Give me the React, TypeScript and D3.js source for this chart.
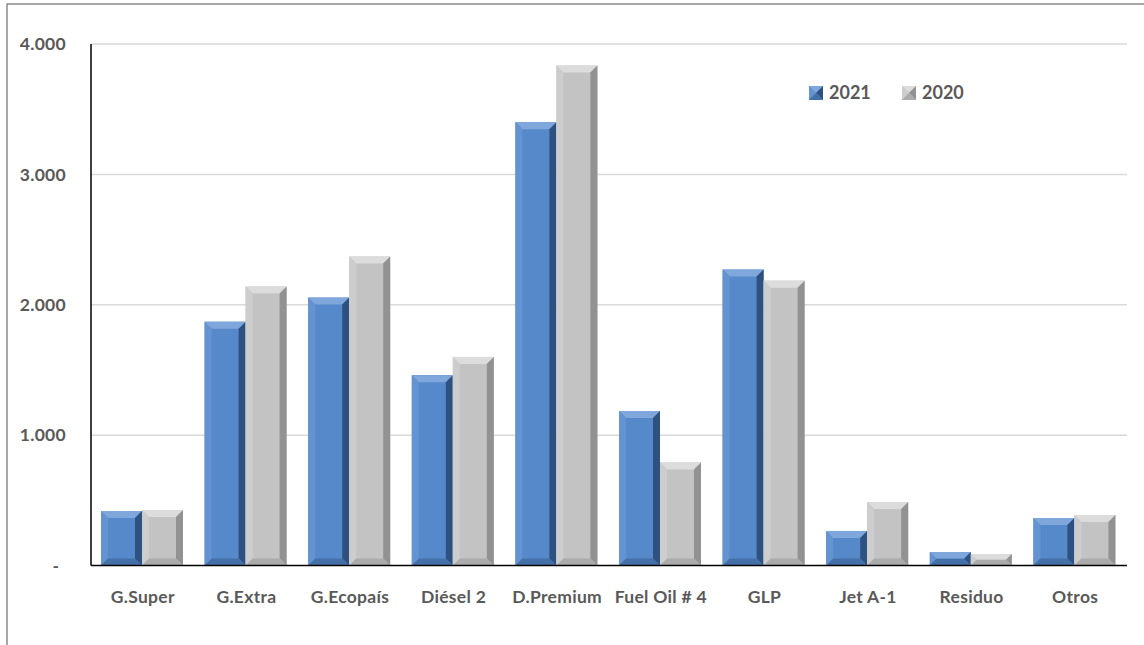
import React from "react";
import * as d3 from "d3";

const categories = ["G.Super", "G.Extra", "G.Ecopaís", "Diésel 2", "D.Premium", "Fuel Oil # 4", "GLP", "Jet A-1", "Residuo", "Otros"];
const values2021 = [418, 1870, 2055, 1460, 3400, 1185, 2270, 265, 103, 364];
const values2020 = [425, 2140, 2370, 1600, 3835, 790, 2185, 487, 88, 387];
const yTicks = [0, 1000, 2000, 3000, 4000];
const seriesNames = ["2021", "2020"];

const W = 1144, H = 645;
const left = 91, right = 1127, top = 44, bottom = 565.5;

const fmt = (v: number) => (v === 0 ? "-" : d3.format(",")(v).replace(/,/g, "."));

type Pal = { main: string; top: string; left: string; right: string; bottom: string };
const blue: Pal = { main: "#5689C9", top: "#7FA7DB", left: "#6393D0", right: "#2F517F", bottom: "#4470A8" };
const gray: Pal = { main: "#C3C3C3", top: "#DCDCDC", left: "#CDCDCD", right: "#929292", bottom: "#ABABAB" };

function BevelBar({ x, y, w, h, pal }: { x: number; y: number; w: number; h: number; pal: Pal }) {
  const b = Math.min(7, h / 2, w / 2);
  const x2 = x + w, y2 = y + h;
  return (
    <g>
      <rect x={x} y={y} width={w} height={h} fill={pal.main} />
      <polygon points={`${x},${y} ${x2},${y} ${x2 - b},${y + b} ${x + b},${y + b}`} fill={pal.top} />
      <polygon points={`${x},${y} ${x + b},${y + b} ${x + b},${y2 - b} ${x},${y2}`} fill={pal.left} />
      <polygon points={`${x2},${y} ${x2},${y2} ${x2 - b},${y2 - b} ${x2 - b},${y + b}`} fill={pal.right} />
      <polygon points={`${x},${y2} ${x2},${y2} ${x2 - b},${y2 - b} ${x + b},${y2 - b}`} fill={pal.bottom} />
    </g>
  );
}

export default function App() {
  const x0 = d3.scaleBand<string>().domain(categories).range([left, right]).paddingInner(0).paddingOuter(0);
  const x1 = d3.scaleBand<string>().domain(seriesNames).range([10, x0.bandwidth() - 11.6]).padding(0);
  const y = d3.scaleLinear().domain([0, 4000]).range([bottom, top]);
  const font = "Lato, 'Open Sans', sans-serif";
  const data = [values2021, values2020];
  const pals = [blue, gray];

  return (
    <svg width={W} height={H} style={{ position: "absolute", left: 0, top: 0, background: "#fff" }} fontFamily={font}>
      <rect x={7} y={4} width={W + 20} height={H + 20} fill="#fff" stroke="#8C8C8C" strokeWidth={1.5} />
      {yTicks.filter((t) => t > 0).map((t) => (
        <line key={t} x1={left} x2={right} y1={y(t)} y2={y(t)} stroke="#D9D9D9" strokeWidth={1.5} />
      ))}
      {yTicks.map((t) => (
        <text key={t} x={t === 0 ? 56 : 66} y={y(t)} dy="0.35em" textAnchor={t === 0 ? "middle" : "end"} fontSize={17.5} fontWeight={700} fill="#595959" letterSpacing={0.3}>
          {fmt(t)}
        </text>
      ))}
      {categories.map((c, i) => (
        <g key={c}>
          {seriesNames.map((s, k) => {
            const v = data[k][i];
            const bx = (x0(c) as number) + (x1(s) as number);
            return <BevelBar key={s} x={bx} y={y(v)} w={x1.bandwidth()} h={bottom - y(v)} pal={pals[k]} />;
          })}
          <text x={(x0(c) as number) + x0.bandwidth() / 2} y={603} textAnchor="middle" fontSize={17.5} fontWeight={700} fill="#595959" letterSpacing={0.3}>
            {c}
          </text>
        </g>
      ))}
      <line x1={left} x2={left} y1={top} y2={bottom} stroke="#000" strokeWidth={1.5} />
      <line x1={left} x2={right} y1={bottom} y2={bottom} stroke="#000" strokeWidth={1.5} />
      {seriesNames.map((s, k) => {
        const lx = k === 0 ? 809 : 902;
        return (
          <g key={s}>
            <BevelBar x={lx} y={86} w={14} h={14} pal={pals[k]} />
            <text x={lx + 20} y={93} dy="0.35em" fontSize={18} fontWeight={700} fill="#595959">
              {s}
            </text>
          </g>
        );
      })}
    </svg>
  );
}
